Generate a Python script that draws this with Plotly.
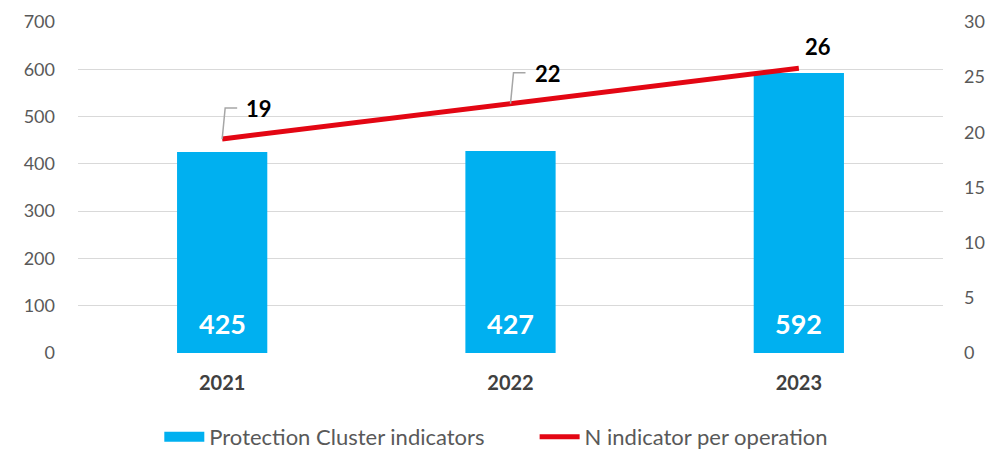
import plotly.graph_objects as go

years = ["2021", "2022", "2023"]
cluster_indicators = [425, 427, 592]
per_operation = [19.4, 22.6, 25.8]
per_operation_labels = ["19", "22", "26"]

FONT = "Lato, sans-serif"
GRAY = "#595959"
BLUE = "#00B0F0"
RED = "#E30613"
PAD = "\u00a0" * 8  # spacing after the first legend entry

fig = go.Figure()
fig.add_trace(go.Bar(
    x=years, y=cluster_indicators, name="Protection Cluster indicators",
    marker=dict(color=BLUE, line=dict(width=0)), width=0.313,
    yaxis="y", showlegend=False,
))
fig.add_trace(go.Scatter(
    x=[None], y=[None], name="Protection Cluster indicators" + PAD,
    mode="lines", line=dict(color=BLUE, width=12), showlegend=True,
))
fig.add_trace(go.Scatter(
    x=years, y=per_operation, name="N indicator per operation",
    mode="lines", line=dict(color=RED, width=5), yaxis="y2",
))

# bar value labels at the base of each bar
for i, v in enumerate(cluster_indicators):
    fig.add_annotation(
        x=i, y=0, xref="x", yref="y", text=str(v), showarrow=False,
        yanchor="middle", yshift=30,
        font=dict(color="white", size=27, family=FONT, weight="bold"),
    )

# data labels with leader lines for the line series
for i, (v, lab) in enumerate(zip(per_operation, per_operation_labels)):
    leader = i < 2
    if leader:
        fig.add_shape(
            type="path", xref="x", yref="y2", xsizemode="pixel", ysizemode="pixel",
            xanchor=i, yanchor=v,
            path="M0,0 L3,31 L15,31",
            line=dict(color="#A6A6A6", width=1.5),
        )
    fig.add_annotation(
        x=i, y=v, xref="x", yref="y2", text=lab, showarrow=False,
        xshift=37 if leader else 19, yshift=30 if leader else 22,
        font=dict(color="black", size=22, family=FONT, weight="bold"),
    )

fig.update_layout(
    width=992, height=449,
    margin=dict(l=78, r=49, t=22, b=96, autoexpand=False),
    plot_bgcolor="white", paper_bgcolor="white",
    font=dict(family=FONT, color=GRAY, size=18),
    xaxis=dict(
        type="category", range=[-0.5, 2.5], autorange=False,
        showgrid=False, showline=False,
        tickfont=dict(color="#404040", size=20, weight="bold", family=FONT),
        ticks="", ticklabelstandoff=16,
    ),
    yaxis=dict(
        range=[0, 700], autorange=False, dtick=100, showgrid=True,
        gridcolor="#D9D9D9", gridwidth=1.3,
        zeroline=False, tickfont=dict(color=GRAY, size=18, family=FONT),
        ticks="", ticklabelstandoff=22,
    ),
    yaxis2=dict(
        range=[0, 30], autorange=False, dtick=5, overlaying="y", side="right",
        showgrid=False, zeroline=False,
        tickfont=dict(color=GRAY, size=18, family=FONT),
        ticks="", ticklabelstandoff=20,
    ),
    legend=dict(
        orientation="h", x=0.094, xanchor="left",
        yref="container", y=0.027, yanchor="middle",
        font=dict(color=GRAY, size=22, family=FONT), itemwidth=40,
        traceorder="normal",
    ),
    showlegend=True,
)

fig.write_html("out.html", post_script="document.body.style.margin='0';",
               config={"displayModeBar": False})
